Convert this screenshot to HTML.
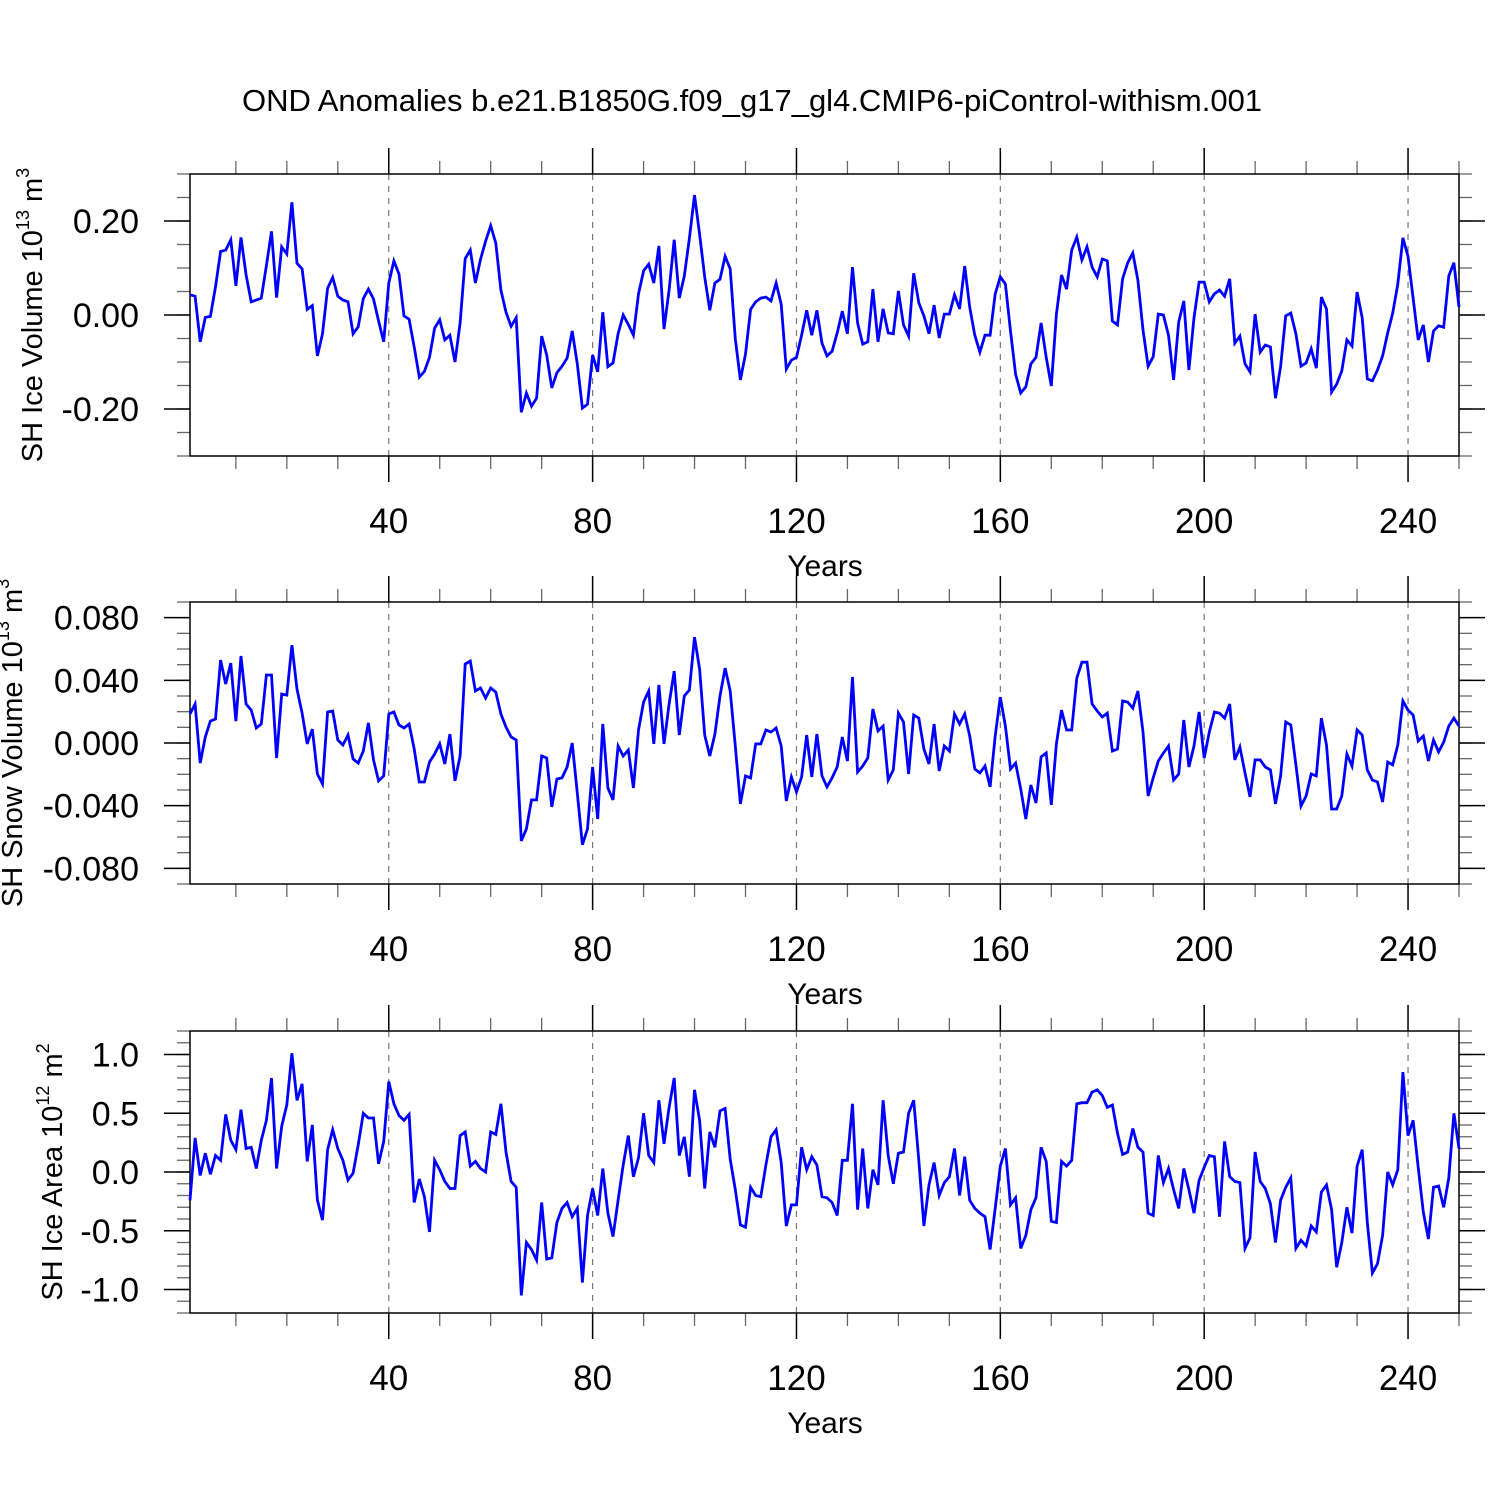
<!DOCTYPE html>
<html><head><meta charset="utf-8"><title>OND Anomalies</title>
<style>html,body{margin:0;padding:0;background:#fff}svg{display:block}text{font-family:"Liberation Sans",sans-serif;fill:#000}</style>
</head><body>
<svg id="chart" width="1500" height="1500" viewBox="0 0 1500 1500" xmlns="http://www.w3.org/2000/svg">
<text x="752" y="111" font-size="31" text-anchor="middle">OND Anomalies b.e21.B1850G.f09_g17_gl4.CMIP6-piControl-withism.001</text>
</svg>
<script>
const xTickYears = [40, 80, 120, 160, 200, 240];
const xTickLabels = ["40", "80", "120", "160", "200", "240"];
const iceVol = [0.043,0.04,-0.057,-0.005,-0.003,0.06,0.135,0.138,0.16,0.062,0.165,0.085,0.028,0.032,0.036,0.105,0.178,0.037,0.145,0.13,0.24,0.11,0.098,0.012,0.02,-0.087,-0.04,0.057,0.08,0.04,0.032,0.028,-0.04,-0.025,0.035,0.055,0.034,-0.013,-0.057,0.068,0.115,0.087,-0.002,-0.009,-0.068,-0.132,-0.12,-0.09,-0.028,-0.01,-0.053,-0.043,-0.1,-0.017,0.12,0.138,0.068,0.118,0.157,0.19,0.153,0.053,0.006,-0.024,-0.006,-0.207,-0.166,-0.194,-0.177,-0.045,-0.085,-0.155,-0.123,-0.109,-0.092,-0.034,-0.104,-0.198,-0.19,-0.085,-0.121,0.006,-0.11,-0.102,-0.04,0,-0.02,-0.043,0.045,0.094,0.108,0.068,0.147,-0.03,0.053,0.16,0.036,0.083,0.163,0.255,0.172,0.081,0.01,0.068,0.076,0.125,0.098,-0.051,-0.138,-0.083,0.012,0.028,0.036,0.038,0.03,0.068,0.023,-0.115,-0.096,-0.09,-0.043,0.01,-0.043,0.01,-0.06,-0.087,-0.077,-0.038,0.008,-0.04,0.102,-0.017,-0.062,-0.057,0.055,-0.057,0.013,-0.038,-0.04,0.051,-0.021,-0.045,0.089,0.026,-0.002,-0.04,0.021,-0.049,0.002,0.002,0.043,0.013,0.104,0.017,-0.043,-0.079,-0.043,-0.043,0.045,0.081,0.066,-0.034,-0.126,-0.166,-0.153,-0.104,-0.09,-0.017,-0.09,-0.151,0.002,0.085,0.055,0.138,0.166,0.117,0.145,0.102,0.081,0.119,0.115,-0.013,-0.021,0.077,0.111,0.132,0.074,-0.032,-0.109,-0.089,0.002,0,-0.043,-0.138,-0.015,0.03,-0.117,-0.006,0.07,0.07,0.028,0.045,0.053,0.04,0.077,-0.06,-0.045,-0.104,-0.121,0.002,-0.079,-0.064,-0.068,-0.177,-0.11,-0.002,0.004,-0.04,-0.109,-0.102,-0.072,-0.113,0.038,0.013,-0.164,-0.147,-0.119,-0.053,-0.066,0.049,-0.006,-0.136,-0.14,-0.117,-0.087,-0.038,0.004,0.066,0.164,0.125,0.036,-0.053,-0.021,-0.1,-0.034,-0.023,-0.026,0.083,0.111,0.017];
const snowVolMilli = [18.5,24.9,-12.8,3.8,14,15.3,52.9,37.6,51,14,55.5,24.9,21,9.6,12.1,43.4,43.4,-9.6,31.2,30.6,62.5,34.4,19.1,-0.6,8.9,-19.8,-26.1,19.8,20.4,1.9,-1.3,5.1,-10.2,-12.8,-5.1,12.8,-10.8,-24.2,-21,18.5,19.8,11.5,9.6,12.1,-3.8,-24.9,-24.9,-12.1,-7,-0.6,-13.4,5.7,-24.2,-8.3,50.4,52.3,33.2,35.1,28.7,35.1,32.5,18.5,10.2,3.8,1.9,-62.5,-54.8,-36.3,-36.3,-8.3,-9.6,-40.8,-23,-22.3,-15.3,0,-31.9,-65,-54.8,-15.3,-48.5,12.1,-28.7,-36.3,-1.9,-8.3,-4.5,-28.7,8.3,26.1,33.2,-0.6,37,-0.6,24.9,45.9,5.1,30,33.8,67.6,47.2,5.1,-8.3,5.7,30,47.8,33.2,-1.9,-38.9,-21,-22.3,-0.6,-0.6,8.3,7,9.6,-1.9,-37,-21.7,-31.2,-21.7,5.1,-21.7,5.7,-21,-28,-22.3,-15.3,3.8,-11.5,42.1,-18.5,-14.7,-9.6,21.7,7.7,10.8,-23.6,-17.2,19.1,13.4,-19.8,17.9,15.9,-3.8,-13.4,12.1,-17.9,-1.9,-5.1,18.5,12.1,18.5,4.5,-16.6,-19.1,-14.7,-28,4.5,29.3,10.8,-16.6,-12.8,-29.3,-48.5,-26.8,-38.3,-8.9,-6.4,-39.5,-0.6,21,8.3,8.3,41.4,51.6,51.6,24.9,20.4,16.6,19.1,-5.1,-3.8,26.8,26.1,22.3,33.2,7,-33.8,-22.3,-11.5,-6.4,-1.9,-23.6,-19.8,14.7,-15.3,-1.9,19.8,-9.6,7,19.8,19.1,15.9,24.9,-10.8,-2.6,-19.1,-34.4,-10.8,-10.8,-15.3,-17.2,-38.9,-21,13.4,11.5,-14,-40.2,-33.8,-19.8,-21,15.9,-1.3,-42.1,-42.1,-33.8,-7,-14.7,8.3,5.1,-17.2,-23.6,-24.9,-37.6,-12.1,-14,-1.3,26.8,21,17.9,1.3,4.5,-11.5,1.9,-5.7,0.6,10.8,15.9,10.8];
const snowVol = snowVolMilli.map(v => v / 1000);
const iceArea = [-0.24,0.29,-0.03,0.16,-0.02,0.14,0.10,0.49,0.27,0.19,0.53,0.20,0.21,0.03,0.27,0.44,0.80,0.03,0.39,0.57,1.01,0.61,0.75,0.09,0.40,-0.24,-0.41,0.19,0.36,0.20,0.10,-0.07,-0.01,0.23,0.50,0.46,0.46,0.07,0.26,0.77,0.58,0.48,0.44,0.49,-0.26,-0.06,-0.21,-0.51,0.10,0.02,-0.08,-0.14,-0.14,0.31,0.34,0.05,0.09,0.03,0,0.34,0.32,0.58,0.17,-0.08,-0.13,-1.05,-0.60,-0.66,-0.75,-0.26,-0.74,-0.73,-0.43,-0.31,-0.26,-0.38,-0.31,-0.94,-0.37,-0.14,-0.37,0.03,-0.35,-0.55,-0.24,0.06,0.31,-0.04,0.12,0.50,0.14,0.08,0.61,0.24,0.55,0.80,0.14,0.30,-0.04,0.70,0.44,-0.14,0.34,0.21,0.52,0.54,0.11,-0.15,-0.45,-0.47,-0.13,-0.20,-0.21,0.06,0.30,0.36,0.08,-0.46,-0.28,-0.28,0.21,0.02,0.13,0.06,-0.21,-0.22,-0.26,-0.37,0.10,0.10,0.58,-0.32,0.20,-0.31,0.02,-0.11,0.61,0.14,-0.10,0.16,0.17,0.50,0.61,0.10,-0.46,-0.11,0.08,-0.20,-0.09,-0.04,0.20,-0.20,0.13,-0.24,-0.31,-0.35,-0.38,-0.66,-0.31,0.05,0.20,-0.28,-0.22,-0.65,-0.54,-0.32,-0.22,0.21,0.09,-0.42,-0.43,0.09,0.05,0.10,0.58,0.59,0.59,0.68,0.70,0.65,0.55,0.57,0.33,0.15,0.17,0.37,0.21,0.17,-0.35,-0.37,0.14,-0.09,0.03,-0.15,-0.31,0.03,-0.15,-0.35,-0.07,0.04,0.14,0.13,-0.38,0.26,-0.04,-0.08,-0.09,-0.65,-0.56,0.17,-0.08,-0.14,-0.27,-0.60,-0.24,-0.13,-0.05,-0.65,-0.58,-0.63,-0.46,-0.51,-0.17,-0.11,-0.32,-0.81,-0.60,-0.30,-0.52,0.05,0.19,-0.43,-0.86,-0.78,-0.54,0,-0.11,0.02,0.85,0.31,0.44,0.04,-0.34,-0.57,-0.13,-0.12,-0.30,-0.05,0.50,0.20];
const iceVolTicks = [-0.2, 0, 0.2];
const iceVolTickLabels = ["-0.20", "0.00", "0.20"];
const snowVolTicks = [-0.08, -0.04, 0, 0.04, 0.08];
const snowVolTickLabels = ["-0.080", "-0.040", "0.000", "0.040", "0.080"];
const iceAreaTicks = [-1, -0.5, 0, 0.5, 1];
const iceAreaTickLabels = ["-1.0", "-0.5", "0.0", "0.5", "1.0"];

const NS = "http://www.w3.org/2000/svg";
const svg = document.getElementById("chart");
const X0 = 190, X1 = 1459, YR0 = 1, YR1 = 250;
function xScale(yr) { return X0 + (yr - YR0) * (X1 - X0) / (YR1 - YR0); }
function mk(tag, attrs, parent) {
  const e = document.createElementNS(NS, tag);
  for (const k in attrs) e.setAttribute(k, attrs[k]);
  (parent || svg).appendChild(e);
  return e;
}

function panel(cfg) {
  const g = mk("g", {});
  
  
  const top = cfg.top, bot = cfg.top + 282;
  const yScale = v => bot - (v - cfg.ymin) * (bot - top) / (cfg.ymax - cfg.ymin);
  xTickYears.forEach(yr => {
    const l = mk("line", {x1: xScale(yr), x2: xScale(yr), y1: top, y2: bot, stroke: "#777", "stroke-width": 1.2, "stroke-dasharray": "6,6"}, g);
    
    
  });
  for (let yr = 10; yr <= 250; yr += 10) {
    if (yr % 40 === 0) continue;
    const x = xScale(yr);
    mk("line", {x1: x, x2: x, y1: bot, y2: bot + 13, stroke: "#666", "stroke-width": 1.3}, g);
    mk("line", {x1: x, x2: x, y1: top, y2: top - 13, stroke: "#666", "stroke-width": 1.3}, g);
  }
  xTickYears.forEach((yr, i) => {
    const x = xScale(yr);
    mk("line", {x1: x, x2: x, y1: bot, y2: bot + 26, stroke: "#000", "stroke-width": 1.5}, g);
    mk("line", {x1: x, x2: x, y1: top, y2: top - 26, stroke: "#000", "stroke-width": 1.5}, g);
    const t = mk("text", {x: x, y: bot + 77, "font-size": 35, "text-anchor": "middle"}, g);
    
    
    t.textContent = xTickLabels[i];
  });
  for (let v = cfg.ymin; v <= cfg.ymax + 1e-9; v += cfg.minor) {
    const y = yScale(v);
    mk("line", {x1: X0, x2: X0 - 13, y1: y, y2: y, stroke: "#666", "stroke-width": 1.3}, g);
    mk("line", {x1: X1, x2: X1 + 13, y1: y, y2: y, stroke: "#666", "stroke-width": 1.3}, g);
  }
  cfg.ticks.forEach((v, i) => {
    const y = yScale(v);
    mk("line", {x1: X0, x2: X0 - 26, y1: y, y2: y, stroke: "#000", "stroke-width": 1.5}, g);
    mk("line", {x1: X1, x2: X1 + 26, y1: y, y2: y, stroke: "#000", "stroke-width": 1.5}, g);
    const t = mk("text", {x: 139, y: y + 12, "font-size": 34, "text-anchor": "end"}, g);
    
    
    t.textContent = cfg.tickLabels[i];
  });
  const fr = mk("rect", {x: X0, y: top, width: X1 - X0, height: bot - top, fill: "none", stroke: "#000", "stroke-width": 1.5}, g);
  
  
  const d = cfg.data.map((v, i) => (i ? "L" : "M") + xScale(i + 1).toFixed(1) + "," + yScale(v).toFixed(1)).join("");
  const p = mk("path", {d: d, fill: "none", stroke: "#0000ff", "stroke-width": 2.8, "stroke-linejoin": "miter"}, g);
  
  
  const xt = mk("text", {x: 825, y: bot + 120, "font-size": 30, "text-anchor": "middle"}, g);
  
  
  xt.textContent = "Years";
  const cy = (top + bot) / 2;
  const yt = mk("text", {x: 0, y: 0, "font-size": 29, "text-anchor": "middle", transform: "translate(" + cfg.ytx + "," + cy + ") rotate(-90)"}, g);
  
  
  const a = mk("tspan", {}, yt); a.textContent = cfg.ytitle + " 10";
  const b = mk("tspan", {dy: -13, "font-size": 18}, yt); b.textContent = cfg.exp;
  const c = mk("tspan", {dy: 13}, yt); c.textContent = " " + cfg.unit;
  const s = mk("tspan", {dy: -13, "font-size": 18}, yt); s.textContent = cfg.unitExp;
}

panel({name: "ice-volume-panel", top: 174, ymin: -0.3, ymax: 0.3, minor: 0.05, ticks: iceVolTicks, tickLabels: iceVolTickLabels, data: iceVol, ytitle: "SH Ice Volume", exp: "13", unit: "m", unitExp: "3", ytx: 42});
panel({name: "snow-volume-panel", top: 602, ymin: -0.09, ymax: 0.09, minor: 0.01, ticks: snowVolTicks, tickLabels: snowVolTickLabels, data: snowVol, ytitle: "SH Snow Volume", exp: "13", unit: "m", unitExp: "3", ytx: 22});
panel({name: "ice-area-panel", top: 1031, ymin: -1.2, ymax: 1.2, minor: 0.1, ticks: iceAreaTicks, tickLabels: iceAreaTickLabels, data: iceArea, ytitle: "SH Ice Area", exp: "12", unit: "m", unitExp: "2", ytx: 62});
</script>
</body></html>
